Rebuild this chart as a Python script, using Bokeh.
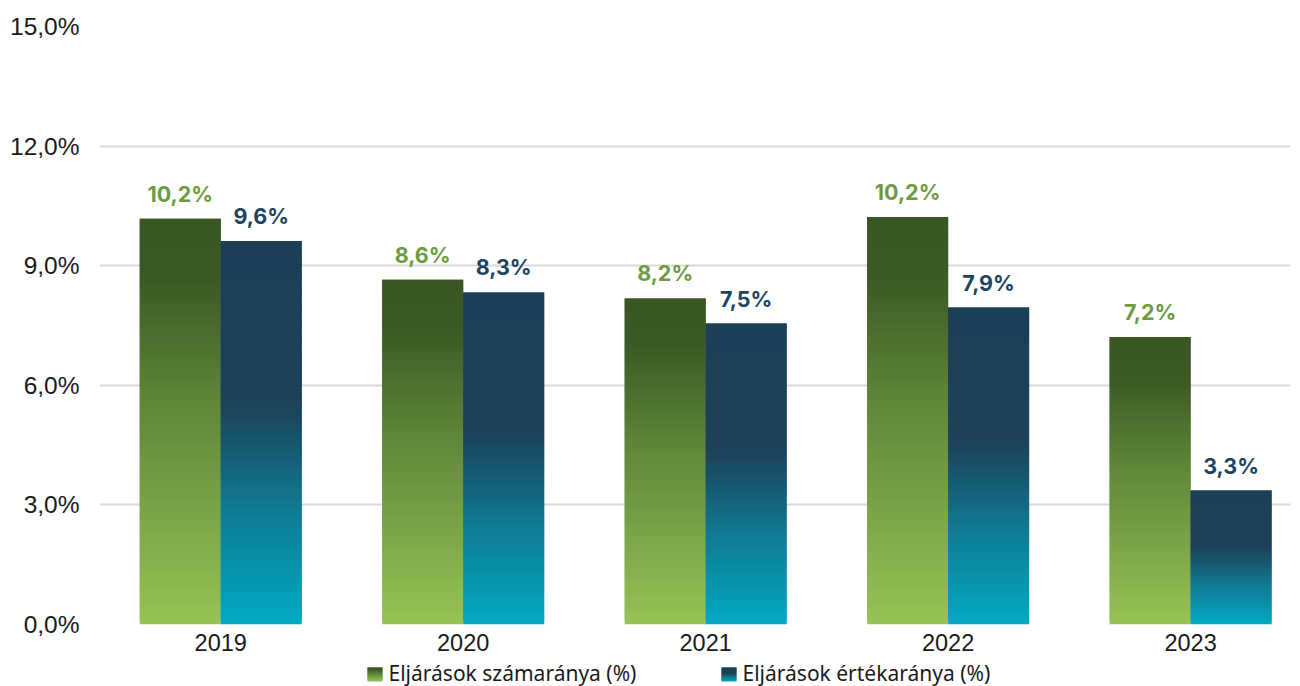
from bokeh.plotting import figure
from bokeh.layouts import column
from bokeh.models import ColumnDataSource, FixedTicker, CustomJSTickFormatter, Range1d
from bokeh.core.properties import value
from bokeh.embed import file_html
from bokeh.resources import INLINE

years = ["2019", "2020", "2021", "2022", "2023"]
szam = [10.18, 8.65, 8.18, 10.22, 7.21]
ertek = [9.62, 8.33, 7.55, 7.95, 3.36]
szam_labels = ["10,2%", "8,6%", "8,2%", "10,2%", "7,2%"]
ertek_labels = ["9,6%", "8,3%", "7,5%", "7,9%", "3,3%"]
series_names = ["Eljárások számaránya (%)", "Eljárások értékaránya (%)"]
y_ticks = [0, 3, 6, 9, 12, 15]

# gradient stops (fraction from top of bar, colour)
green_stops = [(0.0, "#3a5623"), (0.15, "#3c5a25"), (0.45, "#608539"), (1.0, "#98c356")]
blue_stops = [(0.0, "#1c3f58"), (0.42, "#1c4158"), (0.70, "#107a92"), (1.0, "#03a9c4")]

def hex2rgb(h):
    h = h.lstrip("#")
    return tuple(int(h[i:i + 2], 16) for i in (0, 2, 4))

def interp(stops, f):
    for (f0, c0), (f1, c1) in zip(stops[:-1], stops[1:]):
        if f0 <= f <= f1:
            t = 0 if f1 == f0 else (f - f0) / (f1 - f0)
            a, b = hex2rgb(c0), hex2rgb(c1)
            return "#%02x%02x%02x" % tuple(int(round(a[k] + (b[k] - a[k]) * t)) for k in range(3))
    return stops[-1][1]

def gradient_strips(lefts, rights, bottoms, tops, stops_list, n):
    d = dict(left=[], right=[], bottom=[], top=[], color=[])
    for l, r, b0, t0, stops in zip(lefts, rights, bottoms, tops, stops_list):
        h = t0 - b0
        for k in range(n):
            d["left"].append(l)
            d["right"].append(r)
            d["bottom"].append(b0 + h * k / n)
            d["top"].append(min(t0, b0 + h * (k + 2) / n))
            d["color"].append(interp(stops, 1 - (k + 0.5) / n))
    return d

BW = 0.334
n_cat = len(years)
lefts = [i - BW for i in range(n_cat)] + [i for i in range(n_cat)]
rights = [i for i in range(n_cat)] + [i + BW for i in range(n_cat)]
tops = szam + ertek
bottoms = [0] * (2 * n_cat)
stops_list = [green_stops] * n_cat + [blue_stops] * n_cat
strips = gradient_strips(lefts, rights, bottoms, tops, stops_list, 90)

p = figure(width=1292, height=660, output_backend="svg", toolbar_location=None,
           x_range=Range1d(-0.5, 4.412), y_range=Range1d(0, 15),
           min_border_left=99, min_border_right=2, min_border_top=26, min_border_bottom=36)
p.outline_line_color = None
p.background_fill_color = "white"

p.quad(left="left", right="right", bottom="bottom", top="top", source=ColumnDataSource(strips),
       fill_color="color", line_color=None)

# value labels
xs_g = [i - BW / 2 for i in range(n_cat)]
xs_b = [i + BW / 2 for i in range(n_cat)]
p.text(x=xs_g, y=szam, text=szam_labels, text_align="center", text_baseline="bottom", y_offset=-12,
       text_font=value("Inter"), text_font_style="bold", text_font_size="21.5px", text_color="#6e9b40")
p.text(x=xs_b, y=ertek, text=ertek_labels, text_align="center", text_baseline="bottom", y_offset=-12,
       text_font=value("Inter"), text_font_style="bold", text_font_size="21.5px", text_color="#1d4561")

# axes
p.xaxis.ticker = FixedTicker(ticks=list(range(n_cat)))
p.xaxis.major_label_overrides = {i: y for i, y in enumerate(years)}
p.xaxis.axis_line_color = None
p.xaxis.major_tick_line_color = None
p.xaxis.minor_tick_line_color = None
p.xaxis.major_tick_out = 0
p.xaxis.major_tick_in = 0
p.xaxis.minor_tick_out = 0
p.xaxis.major_label_standoff = 9
p.xaxis.major_label_text_font = "Liberation Sans"
p.xaxis.major_label_text_font_size = "23.5px"
p.xaxis.major_label_text_color = "#1a1a1a"
p.xgrid.grid_line_color = None

p.yaxis.ticker = FixedTicker(ticks=y_ticks)
p.yaxis.formatter = CustomJSTickFormatter(code="return tick.toFixed(1).replace('.', ',') + '%';")
p.yaxis.axis_line_color = None
p.yaxis.major_tick_line_color = None
p.yaxis.minor_tick_line_color = None
p.yaxis.major_tick_out = 0
p.yaxis.major_tick_in = 0
p.yaxis.minor_tick_out = 0
p.yaxis.major_label_standoff = 20
p.yaxis.major_label_text_font = "Liberation Sans"
p.yaxis.major_label_text_font_size = "24.5px"
p.yaxis.major_label_text_color = "#1a1a1a"
p.ygrid.grid_line_color = "#d9d9d9"
p.ygrid.grid_line_width = 2

# legend strip (separate small figure; its frame is aligned with the main frame, units = page px)
LG_H = 26
lg = figure(width=1292, height=LG_H, output_backend="svg", toolbar_location=None,
            x_range=Range1d(99, 1290), y_range=Range1d(0, LG_H),
            min_border_left=99, min_border_right=2, min_border_top=0, min_border_bottom=0)
lg.axis.visible = False
lg.grid.grid_line_color = None
lg.outline_line_color = None
sw_left = [367, 721]
sw_w, sw_h = 15, 14
lg_strips = gradient_strips(sw_left, [x + sw_w for x in sw_left], [5, 5], [5 + sw_h, 5 + sw_h],
                            [green_stops, blue_stops], 14)
lg.quad(left="left", right="right", bottom="bottom", top="top", source=ColumnDataSource(lg_strips),
        fill_color="color", line_color=None)
lg.text(x=[388, 742], y=[13.5, 13.5], text=series_names, text_baseline="middle",
        text_align="left", text_font=value("Noto Sans"), text_font_size="21px", text_color="#1a1a1a")

layout = column(p, lg, spacing=0)
open("out.html", "w").write(file_html(layout, INLINE))
